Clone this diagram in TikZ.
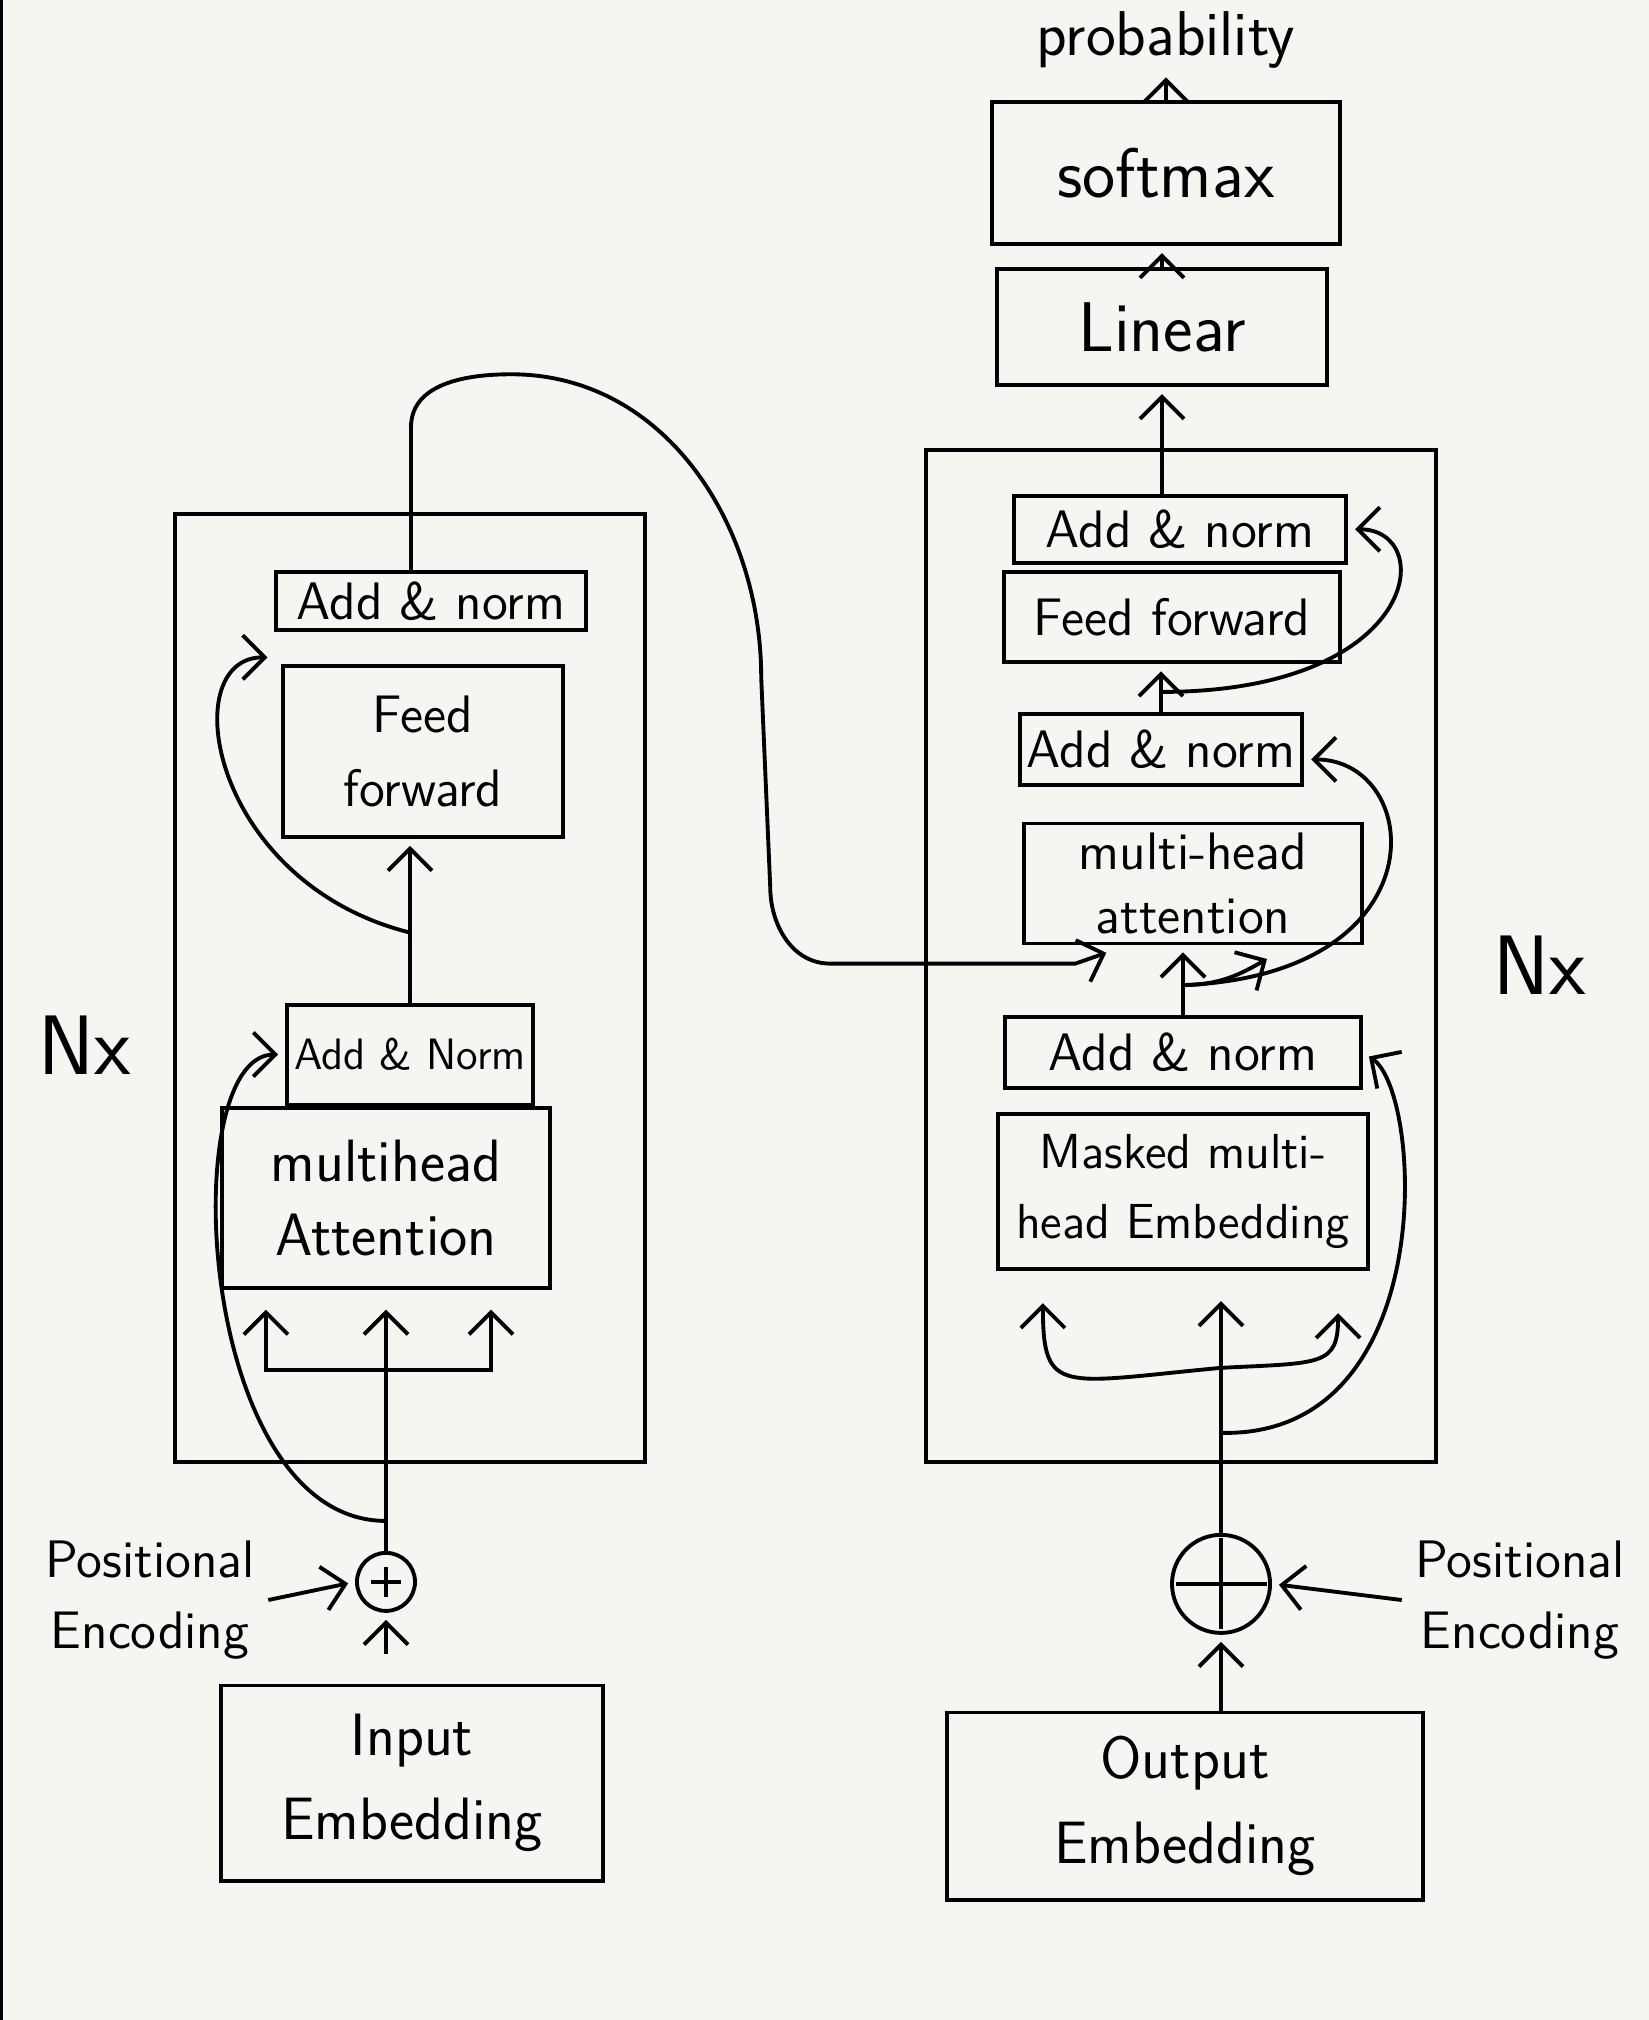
\documentclass[tikz,border=0pt]{standalone}
\usetikzlibrary{positioning,arrows.meta}
\definecolor{paper}{HTML}{F5F6F1}

\begin{document}
\begin{tikzpicture}[->,>={Straight Barb[length=2.2mm,width=4.4mm]},shorten >=2pt,line width=1.1pt,x=0.01cm,y=0.01cm,on grid,
    box/.style={draw,rectangle,align=center,inner sep=2pt,font=\sffamily\fontsize{15}{18}\selectfont},
    bigbox/.style={box,font=\sffamily\fontsize{17}{24}\selectfont},
    frame/.style={draw,rectangle},
    sumnode/.style={draw,circle,inner sep=0pt,path picture={\draw[-,shorten >=0pt] ([yshift=-#1]path picture bounding box.north) -- ([yshift=#1]path picture bounding box.south) ([xshift=#1]path picture bounding box.west) -- ([xshift=-#1]path picture bounding box.east);}},
    textnode/.style={align=center,font=\sffamily\fontsize{15}{20}\selectfont}]

    \fill[paper] (0,0) rectangle (1649,-2020);
    \fill[black] (0,0) rectangle (3,-2020);
    \useasboundingbox (0,0) rectangle (1649,-2020);

    % the two Nx blocks
    \node[frame, minimum width=4.7cm, minimum height=9.47cm] (encframe) at (410,-988) {};
    \node[frame, minimum width=5.09cm, minimum height=10.11cm] (decframe) at (1181,-956) {};

    % encoder
    \node[bigbox, minimum width=3.81cm, minimum height=1.95cm] (inemb) at (412,-1783) {Input\\Embedding};
    \node[sumnode=4pt, minimum size=0.58cm] (encplus) [above=2.01cm of inemb, xshift=-0.26cm] {};
    \node[box, font=\sffamily\fontsize{17}{21}\selectfont, minimum width=3.28cm, minimum height=1.8cm] (encatt) [above=3.84cm of encplus] {multihead\\Attention};
    \node[box, font=\sffamily\fontsize{12.5}{15}\selectfont, minimum width=2.23cm, minimum height=1cm] (encan1) [above=1.43cm of encatt, xshift=0.24cm] {Add \& Norm};
    \node[box, font=\sffamily\fontsize{15}{21}\selectfont, minimum width=2.8cm, minimum height=1.71cm] (encff) [above=3.03cm of encan1, xshift=0.13cm] {Feed\\forward};
    \node[box, minimum width=3.09cm, minimum height=0.58cm] (encan2) [above=1.5cm of encff, xshift=0.08cm] {Add \& norm};

    % decoder
    \node[bigbox, minimum width=4.76cm, minimum height=1.87cm] (outemb) at (1185,-1806) {Output\\Embedding};
    \node[sumnode=1pt, minimum size=0.98cm] (decplus) [above=2.22cm of outemb, xshift=0.36cm] {};
    \node[box, font=\sffamily\fontsize{14}{20}\selectfont, minimum width=3.7cm, minimum height=1.55cm] (decmask) [above=3.92cm of decplus, xshift=-0.38cm] {Masked multi-\\head Embedding};
    \node[box, minimum width=3.56cm, minimum height=0.71cm] (decan1) [above=1.39cm of decmask] {Add \& norm};
    \node[box, minimum width=3.37cm, minimum height=1.2cm] (decatt) [above=1.69cm of decan1, xshift=0.1cm] {multi-head\\attention};
    \node[box, minimum width=2.8cm, minimum height=0.71cm] (decan2) [above=1.34cm of decatt, xshift=-0.32cm] {Add \& norm};
    \node[box, minimum width=3.35cm, minimum height=0.9cm] (decff) [above=1.32cm of decan2, xshift=0.11cm] {Feed forward};
    \node[box, minimum width=3.32cm, minimum height=0.67cm] (decan3) [above=0.88cm of decff, xshift=0.08cm] {Add \& norm};
    \node[box, font=\sffamily\fontsize{20}{24}\selectfont, minimum width=3.29cm, minimum height=1.16cm] (linear) [above=2.02cm of decan3, xshift=-0.18cm] {Linear};
    \node[box, font=\sffamily\fontsize{20}{24}\selectfont, minimum width=3.48cm, minimum height=1.42cm] (softmax) [above=1.54cm of linear, xshift=0.04cm] {softmax};
    \node[textnode, inner sep=0pt, font=\sffamily\fontsize{18}{22}\selectfont] (prob) [above=1.33cm of softmax] {probability};

    % labels
    \node[textnode, font=\sffamily\fontsize{24}{28}\selectfont] (encnx) at (85,-1045) {Nx};
    \node[textnode, font=\sffamily\fontsize{24}{28}\selectfont] (decnx) at (1540,-965) {Nx};
    \node[textnode] (encpe) at (150,-1600) {Positional\\Encoding};
    \node[textnode] (decpe) at (1520,-1600) {Positional\\Encoding};

    % encoder connections
    \draw[shorten <=0.3cm] (inemb.north -| encplus.south) -- (encplus.south);
    \draw (encpe.east) -- (encplus.west);
    \coordinate[below=0.8cm of encatt.south] (encsplit);
    \draw[-,shorten >=0pt] (encplus.north) -- (encsplit);
    \draw[shorten >=0.2cm] (encsplit) -- (encatt.south);
    \draw[shorten >=0.2cm] (encsplit) -| ([xshift=-1.2cm]encatt.south);
    \draw[shorten >=0.2cm] (encsplit) -| ([xshift=1.05cm]encatt.south);
    \coordinate[above=0.3cm of encplus.north] (encres);
    \draw (encres) .. controls +(-1.9cm,0) and +(-1.1cm,0) .. (encan1.west);
    \draw (encan1.north) -- (encan1.north |- encff.south);
    \coordinate[above=0.7cm of encan1.north] (encffsplit);
    \draw (encffsplit) .. controls +(-2cm,0.5cm) and +(-1cm,0) .. ([yshift=-0.25cm]encan2.south west);

    % encoder output into decoder
    \draw ([xshift=-0.2cm]encan2.north) -- ++(0,1.43cm) to[out=90,in=180] ++(1cm,0.53cm)
        to[out=0,in=90] ++(2.5cm,-3.03cm) -- ++(0.09cm,-2.09cm) to[out=-90,in=180] ++(0.6cm,-0.77cm)
        -- ++(2.45cm,0) -- ([xshift=-0.8cm,yshift=-0.05cm]decatt.south);

    % decoder connections
    \draw (outemb.north -| decplus.south) -- (decplus.south);
    \draw (decpe.west) -- (decplus.east);
    \coordinate[above=1.65cm of decplus.north] (decsplit);
    \draw[-,shorten >=0pt] (decplus.north) -- (decsplit);
    \draw[shorten >=0.3cm] (decsplit) -- (decsplit |- decmask.south);
    \draw (decsplit) .. controls +(-1.6cm,-0.15cm) and +(0,-1cm) .. ([xshift=-1.4cm,yshift=-0.25cm]decmask.south);
    \draw (decsplit) .. controls +(1cm,0.05cm) and +(0,-0.6cm) .. ([xshift=1.55cm,yshift=-0.35cm]decmask.south);
    \coordinate[above=1cm of decplus.north] (decres);
    \draw (decres) .. controls +(2.2cm,-0.05cm) and +(0.6cm,-0.4cm) .. (decan1.east);
    \draw (decan1.north) -- (decan1.north |- decatt.south);
    \coordinate[above=0.3cm of decan1.north] (decattsplit);
    \draw (decattsplit) to[out=0,in=-150] ([xshift=0.8cm,yshift=-0.1cm]decatt.south);
    \draw (decattsplit) .. controls +(2.6cm,0.1cm) and +(1.2cm,0) .. ([yshift=-0.1cm]decan2.east);
    \draw (decan2.north) -- (decan2.north |- decff.south);
    \coordinate[above=0.2cm of decan2.north] (decffsplit);
    \draw (decffsplit) .. controls +(2.6cm,0) and +(0.9cm,0) .. (decan3.east);
    \draw (linear.south |- decan3.north) -- (linear.south);
    \draw (linear.north) -- (linear.north |- softmax.south);
    \draw (softmax.north) -- (prob.south);
\end{tikzpicture}
\end{document}
